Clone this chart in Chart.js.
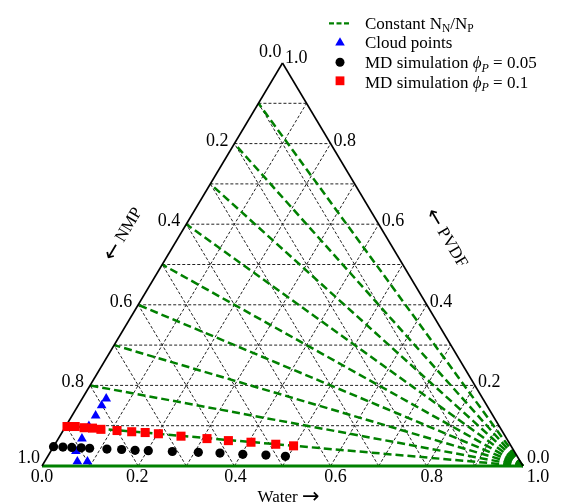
<!DOCTYPE html>
<html><head><meta charset="utf-8">
<script src="https://cdn.jsdelivr.net/npm/chart.js@4.4.0/dist/chart.umd.min.js"></script>
<style>html,body{margin:0;padding:0;background:#fff}#wrap{width:570px;height:502px}</style>
</head><body><div id="wrap"><canvas id="c" width="570" height="502"></canvas></div>
<script>
// ---- data (ternary fractions: water, pvdf; nmp = 1 - water - pvdf) ----
const gridLevels = [0.1,0.2,0.3,0.4,0.5,0.6,0.7,0.8,0.9];
const tickValues = [0.0,0.2,0.4,0.6,0.8,1.0];
const tickLabels = ['0.0','0.2','0.4','0.6','0.8','1.0'];
const ratioLinePvdf = [0.1,0.2,0.3,0.4,0.5,0.6,0.7,0.8,0.9]; // PVDF fraction where each constant-ratio line meets the NMP–PVDF edge
const cloudWater = [0.050,0.049,0.049,0.048,0.049,0.052,0.068,0.089];
const cloudPvdf  = [0.167,0.150,0.125,0.099,0.068,0.037,0.011,0.011];
const md005Water = [0.000,0.020,0.039,0.059,0.077,0.114,0.145,0.174,0.202,0.253,0.308,0.354,0.403,0.452,0.494];
const md005Pvdf  = [0.048,0.047,0.046,0.045,0.044,0.042,0.041,0.039,0.038,0.036,0.034,0.032,0.029,0.027,0.024];
const md01Water  = [0.003,0.020,0.040,0.058,0.077,0.112,0.144,0.173,0.202,0.252,0.309,0.356,0.405,0.459,0.498];
const md01Pvdf   = [0.098,0.098,0.095,0.094,0.091,0.088,0.085,0.083,0.080,0.074,0.068,0.063,0.059,0.054,0.050];
const axisNames = {water:'Water', nmp:'NMP', pvdf:'PVDF'};

// ternary -> cartesian data space
const T = (w, p) => ({x: w + p / 2, y: p});
const GREEN = '#008000';
const SERIF = '"Liberation Serif", "Times New Roman", "DejaVu Serif", serif';
const ARROWF = '"DejaVu Sans", sans-serif';

const lineDs = (pts, color, width, dash) => ({
  data: pts, showLine: true, pointRadius: 0, borderColor: color, borderWidth: width,
  borderDash: dash || [], fill: false, clip: false, tension: 0, pointHitRadius: 0
});

const datasets = [];
// markers first = drawn on top
datasets.push({data: md01Water.map((w,i)=>T(w, md01Pvdf[i])), pointStyle:'rect', pointRadius:6.4,
  backgroundColor:'#ff0000', borderColor:'#ff0000', pointBorderWidth:0, clip:false, showLine:false});
datasets.push({data: md005Water.map((w,i)=>T(w, md005Pvdf[i])), pointStyle:'circle', pointRadius:4.6,
  backgroundColor:'#000', borderColor:'#000', pointBorderWidth:0, clip:false, showLine:false});
datasets.push({data: cloudWater.map((w,i)=>T(w, cloudPvdf[i])), pointStyle:'triangle', pointRadius:5.6,
  backgroundColor:'#0000ff', borderColor:'#0000ff', pointBorderWidth:0, clip:false, showLine:false});
// triangle edges
datasets.push(lineDs([T(0,0), T(0,1)], '#000', 1.6));
datasets.push(lineDs([T(1,0), T(0,1)], '#000', 1.6));
datasets.push(lineDs([T(0,0), T(1,0)], GREEN, 2.8));
// constant N_N/N_P lines from the water vertex
ratioLinePvdf.forEach(p => datasets.push(lineDs([T(1,0), T(0,p)], GREEN, 2.5, [8,4])));
// grid
gridLevels.forEach(v => {
  datasets.push(lineDs([T(0,v), T(1-v,v)], '#222', 1, [3,2]));      // const PVDF
  datasets.push(lineDs([T(v,0), T(v,1-v)], '#222', 1, [3,2]));      // const water
  datasets.push(lineDs([T(1-v,0), T(0,1-v)], '#222', 1, [3,2]));    // const NMP
});

const deco = {
  id: 'deco',
  afterDraw(chart) {
    const ctx = chart.ctx, xs = chart.scales.x, ys = chart.scales.y;
    const px = q => ({x: xs.getPixelForValue(q.x), y: ys.getPixelForValue(q.y)});
    ctx.save();
    ctx.fillStyle = '#000';
    ctx.font = '18px ' + SERIF;
    ctx.textBaseline = 'alphabetic';
    const n = tickValues.length;
    // bottom (water)
    const bdx = [0,-1,1,5,5,15];
    ctx.textAlign = 'center';
    tickValues.forEach((v,i) => { const P = px(T(v,0)); ctx.fillText(tickLabels[i], P.x + bdx[i], P.y + 16); });
    // left (NMP): point water=0, pvdf=1-v
    ctx.textAlign = 'right';
    tickValues.forEach((v,i) => {
      const P = px(T(0,1-v));
      let dx = -6, dy = 2;
      if (i === 0) { dx = -1; dy = -6; }
      if (i === n-1) { dx = -2; dy = -3; }
      ctx.fillText(tickLabels[i], P.x + dx, P.y + dy);
    });
    // right (PVDF): point water=1-v, pvdf=v
    ctx.textAlign = 'left';
    tickValues.forEach((v,i) => {
      const P = px(T(1-v,v));
      let dx = 3, dy = 2;
      if (i === 0) { dx = 4; dy = -3; }
      if (i === n-1) { dx = 2.5; dy = 0; }
      ctx.fillText(tickLabels[i], P.x + dx, P.y + dy);
    });

    // axis titles: text + arrow glyph drawn as a sequence
    const big = '17px ' + SERIF, arr = '21px ' + ARROWF;
    const runW = parts => parts.reduce((s,[t,f]) => { ctx.font = f; return s + ctx.measureText(t).width; }, 0);
    const run = (parts, x, y) => { parts.forEach(([t,f,dy]) => { ctx.font = f; ctx.fillText(t, x, y + (dy||0)); x += ctx.measureText(t).width; }); };
    ctx.textAlign = 'left'; ctx.textBaseline = 'alphabetic';
    const wParts = [[axisNames.water + ' ', big], ['\u2192', arr, 1]];
    const B = px(T(0.5,0));
    run(wParts, B.x + 6 - runW(wParts)/2, B.y + 36);
    const L0 = px(T(0,0)), L1 = px(T(0,1));
    const ang = Math.atan2(L0.y - L1.y, L1.x - L0.x);
    const nParts = [['\u2190', arr, 1], [' ' + axisNames.nmp, big]];
    const Lm = px(T(0,0.5));
    ctx.save(); ctx.translate(Lm.x - 40, Lm.y - 31); ctx.rotate(-ang); run(nParts, -runW(nParts)/2, 6); ctx.restore();
    const pParts = [['\u2190', arr, 1], [' ' + axisNames.pvdf, big]];
    const Rm = px(T(0.5,0.5));
    ctx.save(); ctx.translate(Rm.x + 45, Rm.y - 27); ctx.rotate(ang); run(pParts, -runW(pParts)/2, 6); ctx.restore();

    // legend
    const mx = 340, tx = 365;
    ctx.strokeStyle = GREEN; ctx.lineWidth = 2.3; ctx.setLineDash([5,2.5]);
    ctx.beginPath(); ctx.moveTo(329, 23.3); ctx.lineTo(351, 23.3); ctx.stroke(); ctx.setLineDash([]);
    ctx.fillStyle = '#0000ff';
    ctx.beginPath(); ctx.moveTo(mx, 37.3); ctx.lineTo(mx + 4.8, 45.5); ctx.lineTo(mx - 4.8, 45.5); ctx.closePath(); ctx.fill();
    ctx.fillStyle = '#000';
    ctx.beginPath(); ctx.arc(mx, 62.3, 4.5, 0, Math.PI*2); ctx.fill();
    ctx.fillStyle = '#ff0000'; ctx.fillRect(mx - 4.4, 76.4, 8.8, 8.8);

    ctx.fillStyle = '#000';
    const small = '11.5px ' + SERIF;
    run([['Constant N', big], ['N', small, 3.5], ['/N', big], ['P', small, 3.5]], tx, 28.5);
    run([['Cloud points', big]], tx, 48.3);
    const it = 'italic 17px ' + SERIF, its = 'italic 12px ' + SERIF;
    run([['MD simulation ', big], ['\u03D5', it], ['P', its, 3.5], [' = 0.05', big]], tx, 68);
    run([['MD simulation ', big], ['\u03D5', it], ['P', its, 3.5], [' = 0.1', big]], tx, 87.5);
    ctx.restore();
  }
};

new Chart(document.getElementById('c'), {
  type: 'scatter',
  data: {datasets},
  options: {
    responsive: false, animation: false, devicePixelRatio: 1,
    layout: {padding: {left: 42, top: 63, right: 47, bottom: 36}},
    scales: {
      x: {type: 'linear', min: 0, max: 1, display: false},
      y: {type: 'linear', min: 0, max: 1, display: false}
    },
    plugins: {legend: {display: false}, tooltip: {enabled: false}},
    events: []
  },
  plugins: [deco]
});
</script></body></html>
